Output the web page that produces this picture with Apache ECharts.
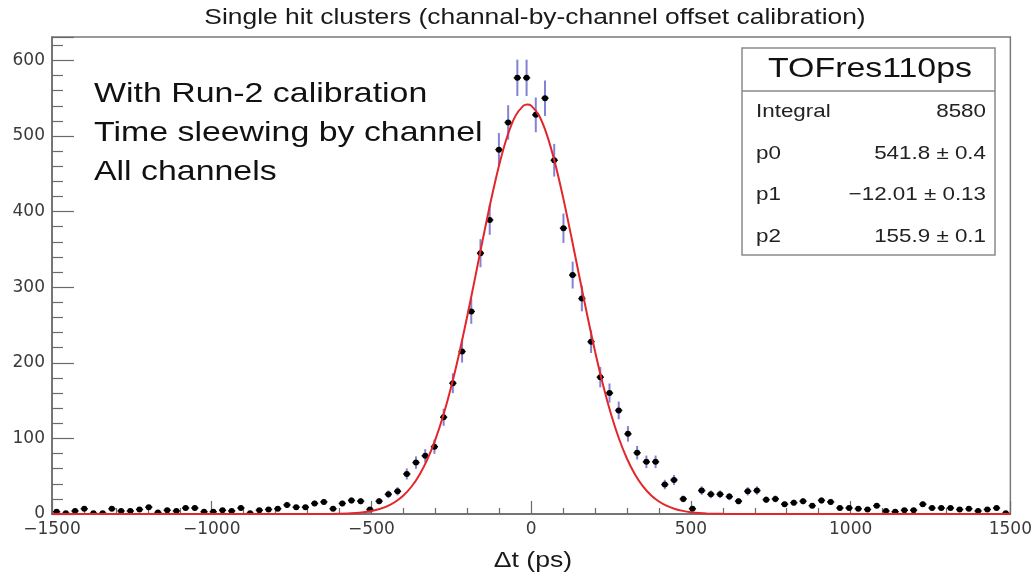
<!DOCTYPE html>
<html><head><meta charset="utf-8">
<script src="https://cdn.jsdelivr.net/npm/echarts@6/dist/echarts.min.js"></script>
<style>html,body{margin:0;padding:0;background:#fff}#c{width:1035px;height:579px}</style>
</head><body><div id="c"></div>
<script>
// ---- data ----
const binCenters = [
-1485.6,-1456.7,-1427.9,-1399.0,-1370.2,-1341.3,-1312.5,-1283.7,-1254.8,-1226.0,
-1197.1,-1168.3,-1139.4,-1110.6,-1081.7,-1052.9,-1024.0,-995.2,-966.3,-937.5,
-908.7,-879.8,-851.0,-822.1,-793.3,-764.4,-735.6,-706.7,-677.9,-649.0,
-620.2,-591.3,-562.5,-533.7,-504.8,-476.0,-447.1,-418.3,-389.4,-360.6,
-331.7,-302.9,-274.0,-245.2,-216.3,-187.5,-158.7,-129.8,-101.0,-72.1,
-43.3,-14.4,14.4,43.3,72.1,101.0,129.8,158.7,187.5,216.3,
245.2,274.0,302.9,331.7,360.6,389.4,418.3,447.1,476.0,504.8,
533.7,562.5,591.3,620.2,649.0,677.9,706.7,735.6,764.4,793.3,
822.1,851.0,879.8,908.7,937.5,966.3,995.2,1024.0,1052.9,1081.7,
1110.6,1139.4,1168.3,1197.1,1226.0,1254.8,1283.7,1312.5,1341.3,1370.2,
1399.0,1427.9,1456.7,1485.6];
const counts = [
3,1,4,7,1,1,7,4,4,6,
9,2,5,4,8,8,3,3,5,4,
8,1,5,6,7,12,9,9,14,16,
7,14,18,17,6,17,26,30,53,68,
77,89,128,173,215,268,345,389,482,518,
577,577,528,550,468,378,316,285,228,181,
160,137,106,81,69,69,39,45,20,7,
31,26,26,23,17,30,31,19,20,13,
15,17,11,18,16,8,8,7,6,11,
4,3,5,5,13,8,8,8,6,7,
4,6,8,1];
const fitX = [-1500,-650,-600,-550,-525,-500,-475,-450,-425,-400,-375,-350,-325,-300,-275,-250,-225,-200,-175,-150,-125,-100,-75,-50,-25,-12,
  0,25,50,75,100,125,150,175,200,225,250,275,300,325,350,375,400,425,450,475,500,525,550,600,650,1500];
const fitY = [0,0.1,0.44,1.41,2.41,4.04,6.59,10.47,16.22,24.49,36.04,51.67,72.21,98.37,130.59,168.97,213.07,261.88,313.68,366.21,416.65,462.03,499.33,525.95,539.92,541.8,
  540.19,526.74,500.59,463.66,418.55,368.25,315.75,263.87,214.91,170.59,131.98,99.51,73.13,52.38,36.57,24.88,16.49,10.66,6.71,4.12,2.46,1.44,0.82,0.24,0.05,0];
const xTickValues = [-1500,-1000,-500,0,500,1000,1500];
const yTickValues = [0,100,200,300,400,500,600];
const titleText = 'Single hit clusters (channal-by-channel offset calibration)';
const xAxisTitle = 'Δt (ps)';
const noteLines = ['With Run-2 calibration','Time sleewing by channel','All channels'];
const statsTitle = 'TOFres110ps';
const statsNames = ['Integral','p0','p1','p2'];
const statsValues = ['8580','541.8 ± 0.4','\u221212.01 ± 0.13','155.9 ± 0.1'];

// ---- chart ----
const chart = echarts.init(document.getElementById('c'));
const halfBin = (binCenters[1] - binCenters[0]) / 2;
const histData = binCenters.map((x, i) => [x, counts[i], Math.sqrt(counts[i])]);
const fitData = fitX.map((x, i) => [x, fitY[i]]);
const fmt = v => (v < 0 ? '\u2212' + Math.abs(v) : String(v));
const SX = 1.21;
const FONT = 'Liberation Sans, Arial, Helvetica, sans-serif';

const graphics = [];
graphics.push({type:'text', x:535, y:18, scaleX:1.2, style:{text:titleText, font:'22px ' + FONT, fill:'#1a1a1a', textAlign:'center', textVerticalAlign:'middle'}});
graphics.push({type:'text', x:533, y:561, scaleX:SX, style:{text:xAxisTitle, font:'22px ' + FONT, fill:'#1a1a1a', textAlign:'center', textVerticalAlign:'middle'}});
noteLines.forEach((t, i) => {
  graphics.push({type:'text', x:94, y:94 + i * 39, scaleX:SX, style:{text:t, font:'28px ' + FONT, fill:'#111', textAlign:'left', textVerticalAlign:'middle'}});
});
graphics.push({type:'rect', shape:{x:742, y:48, width:253, height:207}, style:{fill:'#fff', stroke:'#8a8a8a', lineWidth:1.5}, z:10});
graphics.push({type:'line', shape:{x1:742, y1:91, x2:995, y2:91}, style:{stroke:'#8a8a8a', lineWidth:1.5}, z:11});
graphics.push({type:'text', x:870, y:69, scaleX:SX, style:{text:statsTitle, font:'28px ' + FONT, fill:'#111', textAlign:'center', textVerticalAlign:'middle'}, z:11});
const rowY = [112, 154, 195, 237];
statsNames.forEach((n, i) => {
  graphics.push({type:'text', x:756, y:rowY[i], scaleX:SX, style:{text:n, font:'18.5px ' + FONT, fill:'#222', textAlign:'left', textVerticalAlign:'middle'}, z:11});
  graphics.push({type:'text', x:986, y:rowY[i], scaleX:SX, style:{text:statsValues[i], font:'18.5px ' + FONT, fill:'#222', textAlign:'right', textVerticalAlign:'middle'}, z:11});
});

const option = {
  animation: false,
  backgroundColor: '#fff',
  grid: {left:52, right:22, top:37, bottom:65, show:true, borderColor:'#7a7a7a', borderWidth:1.5, backgroundColor:'transparent'},
  xAxis: {
    type:'value', min:xTickValues[0], max:xTickValues[xTickValues.length-1], interval:500,
    axisLine:{show:true, onZero:false, lineStyle:{color:'#6a6a6a', width:1.5}},
    axisTick:{show:true, inside:true, length:13, lineStyle:{color:'#6a6a6a', width:1.2}},
    minorTick:{show:true, splitNumber:5, length:6, lineStyle:{color:'#6a6a6a', width:1.2}},
    splitLine:{show:false},
    axisLabel:{color:'#3a3a3a', fontSize:17, fontFamily:'DejaVu Sans', margin:7, formatter:fmt, showMinLabel:true, showMaxLabel:true}
  },
  yAxis: {
    type:'value', min:yTickValues[0], max:631, interval:100,
    axisLine:{show:true, onZero:false, lineStyle:{color:'#6a6a6a', width:1.5}},
    axisTick:{show:true, inside:true, length:22, lineStyle:{color:'#6a6a6a', width:1.2}},
    minorTick:{show:true, splitNumber:5, length:11, lineStyle:{color:'#6a6a6a', width:1.2}},
    splitLine:{show:false},
    axisLabel:{color:'#3a3a3a', fontSize:17, fontFamily:'DejaVu Sans', margin:7, showMaxLabel:false,
      formatter: v => (yTickValues.indexOf(v) >= 0 ? String(v) : '')}
  },
  series: [
    {
      type:'custom', clip:true, z:3,
      data: histData,
      renderItem: (params, api) => {
        const x = api.value(0), y = api.value(1), e = api.value(2);
        const c = api.coord([x, y]);
        const t = api.coord([x, y + e]);
        const b = api.coord([x, Math.max(0, y - e)]);
        const l = api.coord([x - halfBin, y]);
        const r = api.coord([x + halfBin, y]);
        return {type:'group', children:[
          {type:'line', shape:{x1:c[0], y1:t[1], x2:c[0], y2:b[1]}, style:{stroke:'#8383d6', lineWidth:2}},
          {type:'line', shape:{x1:l[0]+1, y1:c[1], x2:r[0]-1, y2:c[1]}, style:{stroke:'#111', lineWidth:1.5}},
          {type:'circle', shape:{cx:c[0], cy:c[1], r:3}, style:{fill:'#000'}}
        ]};
      }
    },
    {
      type:'line', data: fitData, smooth:0.3, symbol:'none', z:5, clip:true,
      lineStyle:{color:'#e3262b', width:2}
    }
  ],
  graphic: graphics
};
chart.setOption(option);
</script>
</body></html>
